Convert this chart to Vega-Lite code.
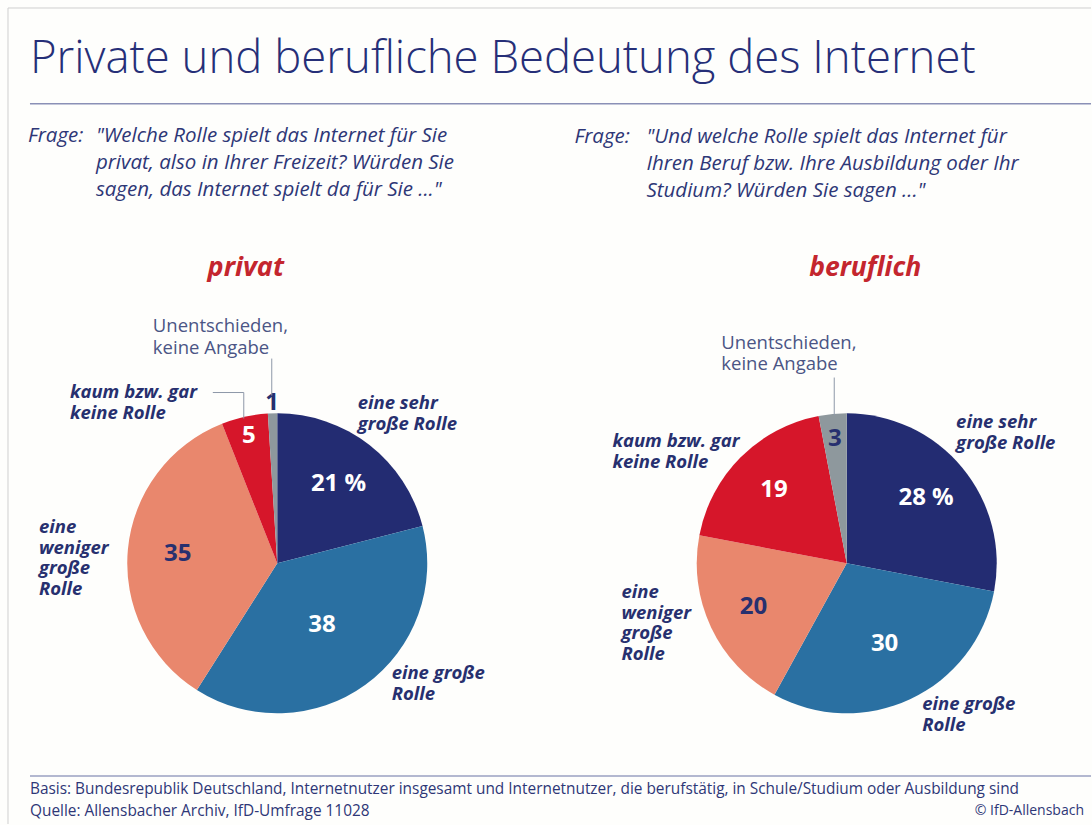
{
  "$schema": "https://vega.github.io/schema/vega-lite/v6.json",
  "width": 1092,
  "height": 825,
  "autosize": {"type": "fit", "contains": "padding"},
  "padding": 0,
  "background": "#fefefc",
  "config": {"view": {"stroke": null}, "text": {"font": "Open Sans"}},
  "datasets": {
    "privat": [
      {"cat": "sehr", "nr": 1, "value": 21, "label": "21 %"},
      {"cat": "gross", "nr": 2, "value": 38, "label": "38"},
      {"cat": "weniger", "nr": 3, "value": 35, "label": "35"},
      {"cat": "kaum", "nr": 4, "value": 5, "label": "5"},
      {"cat": "unent", "nr": 5, "value": 1, "label": "1"}
    ],
    "beruflich": [
      {"cat": "sehr", "nr": 1, "value": 28, "label": "28 %"},
      {"cat": "gross", "nr": 2, "value": 30, "label": "30"},
      {"cat": "weniger", "nr": 3, "value": 20, "label": "20"},
      {"cat": "kaum", "nr": 4, "value": 19, "label": "19"},
      {"cat": "unent", "nr": 5, "value": 3, "label": "3"}
    ]
  },
  "data": {"values": [{}]},
  "layer": [
    {"mark": {"type": "rule", "color": "#cfcfcf", "strokeWidth": 1},
     "encoding": {"x": {"datum": 8, "type": "quantitative", "scale": {"domain": [0, 1092], "nice": false, "zero": false}, "axis": null}, "x2": {"datum": 1092},
                  "y": {"datum": 8, "type": "quantitative", "scale": {"domain": [0, 825], "nice": false, "zero": false, "reverse": true}, "axis": null}}},
    {"mark": {"type": "rule", "color": "#cfcfcf", "strokeWidth": 1},
     "encoding": {"x": {"datum": 8, "type": "quantitative", "scale": {"domain": [0, 1092], "nice": false, "zero": false}, "axis": null},
                  "y": {"datum": 8, "type": "quantitative", "scale": {"domain": [0, 825], "nice": false, "zero": false, "reverse": true}, "axis": null}, "y2": {"datum": 825}}},
    {"mark": {"type": "text", "text": "Private und berufliche Bedeutung des Internet", "align": "left", "baseline": "alphabetic", "fontSize": 45.5, "fontWeight": 300, "color": "#262f78"},
     "encoding": {"x": {"datum": 30, "type": "quantitative", "scale": {"domain": [0, 1092], "nice": false, "zero": false}, "axis": null},
                  "y": {"datum": 73, "type": "quantitative", "scale": {"domain": [0, 825], "nice": false, "zero": false, "reverse": true}, "axis": null}}},
    {"mark": {"type": "rule", "color": "#8a90b6", "strokeWidth": 1.5},
     "encoding": {"x": {"datum": 30, "type": "quantitative", "scale": {"domain": [0, 1092], "nice": false, "zero": false}, "axis": null}, "x2": {"datum": 1092},
                  "y": {"datum": 104, "type": "quantitative", "scale": {"domain": [0, 825], "nice": false, "zero": false, "reverse": true}, "axis": null}}},
    {"mark": {"type": "text", "text": "Frage:", "align": "left", "baseline": "middle", "fontSize": 20.5, "fontStyle": "italic", "color": "#2e3777"},
     "encoding": {"x": {"datum": 28, "type": "quantitative", "scale": {"domain": [0, 1092], "nice": false, "zero": false}, "axis": null},
                  "y": {"datum": 136, "type": "quantitative", "scale": {"domain": [0, 825], "nice": false, "zero": false, "reverse": true}, "axis": null}}},
    {"mark": {"type": "text", "text": ["\"Welche Rolle spielt das Internet für Sie", " privat, also in Ihrer Freizeit? Würden Sie", " sagen, das Internet spielt da für Sie ...\""], "align": "left", "baseline": "middle", "lineHeight": 27, "fontSize": 20.5, "fontStyle": "italic", "color": "#2e3777"},
     "encoding": {"x": {"datum": 96, "type": "quantitative", "scale": {"domain": [0, 1092], "nice": false, "zero": false}, "axis": null},
                  "y": {"datum": 136, "type": "quantitative", "scale": {"domain": [0, 825], "nice": false, "zero": false, "reverse": true}, "axis": null}}},
    {"mark": {"type": "text", "text": "Frage:", "align": "left", "baseline": "middle", "fontSize": 20.5, "fontStyle": "italic", "color": "#2e3777"},
     "encoding": {"x": {"datum": 575, "type": "quantitative", "scale": {"domain": [0, 1092], "nice": false, "zero": false}, "axis": null},
                  "y": {"datum": 137, "type": "quantitative", "scale": {"domain": [0, 825], "nice": false, "zero": false, "reverse": true}, "axis": null}}},
    {"mark": {"type": "text", "text": ["\"Und welche Rolle spielt das Internet für", " Ihren Beruf bzw. Ihre Ausbildung oder Ihr", " Studium? Würden Sie sagen ...\""], "align": "left", "baseline": "middle", "lineHeight": 27, "fontSize": 20.5, "fontStyle": "italic", "color": "#2e3777"},
     "encoding": {"x": {"datum": 647, "type": "quantitative", "scale": {"domain": [0, 1092], "nice": false, "zero": false}, "axis": null},
                  "y": {"datum": 137, "type": "quantitative", "scale": {"domain": [0, 825], "nice": false, "zero": false, "reverse": true}, "axis": null}}},
    {"mark": {"type": "text", "text": "privat", "align": "center", "baseline": "middle", "fontSize": 27, "fontWeight": "bold", "fontStyle": "italic", "color": "#c4262e"},
     "encoding": {"x": {"datum": 246, "type": "quantitative", "scale": {"domain": [0, 1092], "nice": false, "zero": false}, "axis": null},
                  "y": {"datum": 268, "type": "quantitative", "scale": {"domain": [0, 825], "nice": false, "zero": false, "reverse": true}, "axis": null}}},
    {"mark": {"type": "text", "text": "beruflich", "align": "center", "baseline": "middle", "fontSize": 26.5, "fontWeight": "bold", "fontStyle": "italic", "color": "#c4262e"},
     "encoding": {"x": {"datum": 866, "type": "quantitative", "scale": {"domain": [0, 1092], "nice": false, "zero": false}, "axis": null},
                  "y": {"datum": 268, "type": "quantitative", "scale": {"domain": [0, 825], "nice": false, "zero": false, "reverse": true}, "axis": null}}},

    {"data": {"name": "privat"},
     "mark": {"type": "arc", "outerRadius": 150},
     "encoding": {"x": {"datum": 277.5, "type": "quantitative", "scale": {"domain": [0, 1092], "nice": false, "zero": false}, "axis": null},
                  "y": {"datum": 564, "type": "quantitative", "scale": {"domain": [0, 825], "nice": false, "zero": false, "reverse": true}, "axis": null},
                  "theta": {"field": "value", "type": "quantitative", "stack": true},
                  "order": {"field": "nr", "type": "quantitative"},
                  "color": {"field": "cat", "type": "nominal", "legend": null, "scale": {"domain": ["sehr", "gross", "weniger", "kaum", "unent"], "range": ["#232c72", "#2a70a2", "#e9876d", "#d6162a", "#8e989d"]}}}},
    {"data": {"name": "privat"},
     "mark": {"type": "text", "radius": 100, "fontSize": 24, "fontWeight": "bold", "align": "center", "baseline": "middle"},
     "encoding": {"x": {"datum": 277.5, "type": "quantitative", "scale": {"domain": [0, 1092], "nice": false, "zero": false}, "axis": null},
                  "y": {"datum": 564, "type": "quantitative", "scale": {"domain": [0, 825], "nice": false, "zero": false, "reverse": true}, "axis": null},
                  "theta": {"field": "value", "type": "quantitative", "stack": true},
                  "order": {"field": "nr", "type": "quantitative"},
                  "detail": {"field": "cat", "type": "nominal"},
                  "text": {"condition": {"test": "datum.cat === 'sehr' || datum.cat === 'weniger'", "field": "label"}, "value": ""},
                  "color": {"condition": {"test": "datum.cat === 'weniger'", "value": "#27306f"}, "value": "#ffffff"}}},
    {"data": {"name": "privat"},
     "mark": {"type": "text", "radius": 76, "fontSize": 24, "fontWeight": "bold", "align": "center", "baseline": "middle", "color": "#ffffff"},
     "encoding": {"x": {"datum": 277.5, "type": "quantitative", "scale": {"domain": [0, 1092], "nice": false, "zero": false}, "axis": null},
                  "y": {"datum": 564, "type": "quantitative", "scale": {"domain": [0, 825], "nice": false, "zero": false, "reverse": true}, "axis": null},
                  "theta": {"field": "value", "type": "quantitative", "stack": true},
                  "order": {"field": "nr", "type": "quantitative"},
                  "detail": {"field": "cat", "type": "nominal"},
                  "text": {"condition": {"test": "datum.cat === 'gross'", "field": "label"}, "value": ""}}},
    {"data": {"name": "privat"},
     "mark": {"type": "text", "radius": 130, "fontSize": 24, "fontWeight": "bold", "align": "center", "baseline": "middle", "color": "#ffffff"},
     "encoding": {"x": {"datum": 277.5, "type": "quantitative", "scale": {"domain": [0, 1092], "nice": false, "zero": false}, "axis": null},
                  "y": {"datum": 564, "type": "quantitative", "scale": {"domain": [0, 825], "nice": false, "zero": false, "reverse": true}, "axis": null},
                  "theta": {"field": "value", "type": "quantitative", "stack": true},
                  "order": {"field": "nr", "type": "quantitative"},
                  "detail": {"field": "cat", "type": "nominal"},
                  "text": {"condition": {"test": "datum.cat === 'kaum'", "field": "label"}, "value": ""}}},
    {"data": {"name": "privat"},
     "mark": {"type": "text", "radius": 160, "fontSize": 24, "fontWeight": "bold", "align": "center", "baseline": "middle", "color": "#27306f"},
     "encoding": {"x": {"datum": 277.5, "type": "quantitative", "scale": {"domain": [0, 1092], "nice": false, "zero": false}, "axis": null},
                  "y": {"datum": 564, "type": "quantitative", "scale": {"domain": [0, 825], "nice": false, "zero": false, "reverse": true}, "axis": null},
                  "theta": {"field": "value", "type": "quantitative", "stack": true},
                  "order": {"field": "nr", "type": "quantitative"},
                  "detail": {"field": "cat", "type": "nominal"},
                  "text": {"condition": {"test": "datum.cat === 'unent'", "field": "label"}, "value": ""}}},

    {"data": {"name": "beruflich"},
     "mark": {"type": "arc", "outerRadius": 150},
     "encoding": {"x": {"datum": 847.5, "type": "quantitative", "scale": {"domain": [0, 1092], "nice": false, "zero": false}, "axis": null},
                  "y": {"datum": 564, "type": "quantitative", "scale": {"domain": [0, 825], "nice": false, "zero": false, "reverse": true}, "axis": null},
                  "theta": {"field": "value", "type": "quantitative", "stack": true},
                  "order": {"field": "nr", "type": "quantitative"},
                  "color": {"field": "cat", "type": "nominal", "legend": null, "scale": {"domain": ["sehr", "gross", "weniger", "kaum", "unent"], "range": ["#232c72", "#2a70a2", "#e9876d", "#d6162a", "#8e989d"]}}}},
    {"data": {"name": "beruflich"},
     "mark": {"type": "text", "radius": 103, "fontSize": 24, "fontWeight": "bold", "align": "center", "baseline": "middle"},
     "encoding": {"x": {"datum": 847.5, "type": "quantitative", "scale": {"domain": [0, 1092], "nice": false, "zero": false}, "axis": null},
                  "y": {"datum": 564, "type": "quantitative", "scale": {"domain": [0, 825], "nice": false, "zero": false, "reverse": true}, "axis": null},
                  "theta": {"field": "value", "type": "quantitative", "stack": true},
                  "order": {"field": "nr", "type": "quantitative"},
                  "detail": {"field": "cat", "type": "nominal"},
                  "text": {"condition": {"test": "datum.cat === 'sehr' || datum.cat === 'weniger' || datum.cat === 'kaum'", "field": "label"}, "value": ""},
                  "color": {"condition": {"test": "datum.cat === 'weniger'", "value": "#27306f"}, "value": "#ffffff"}}},
    {"data": {"name": "beruflich"},
     "mark": {"type": "text", "radius": 89, "fontSize": 24, "fontWeight": "bold", "align": "center", "baseline": "middle", "color": "#ffffff"},
     "encoding": {"x": {"datum": 847.5, "type": "quantitative", "scale": {"domain": [0, 1092], "nice": false, "zero": false}, "axis": null},
                  "y": {"datum": 564, "type": "quantitative", "scale": {"domain": [0, 825], "nice": false, "zero": false, "reverse": true}, "axis": null},
                  "theta": {"field": "value", "type": "quantitative", "stack": true},
                  "order": {"field": "nr", "type": "quantitative"},
                  "detail": {"field": "cat", "type": "nominal"},
                  "text": {"condition": {"test": "datum.cat === 'gross'", "field": "label"}, "value": ""}}},
    {"data": {"name": "beruflich"},
     "mark": {"type": "text", "radius": 125, "fontSize": 24, "fontWeight": "bold", "align": "center", "baseline": "middle", "color": "#27306f"},
     "encoding": {"x": {"datum": 847.5, "type": "quantitative", "scale": {"domain": [0, 1092], "nice": false, "zero": false}, "axis": null},
                  "y": {"datum": 564, "type": "quantitative", "scale": {"domain": [0, 825], "nice": false, "zero": false, "reverse": true}, "axis": null},
                  "theta": {"field": "value", "type": "quantitative", "stack": true},
                  "order": {"field": "nr", "type": "quantitative"},
                  "detail": {"field": "cat", "type": "nominal"},
                  "text": {"condition": {"test": "datum.cat === 'unent'", "field": "label"}, "value": ""}}},

    {"mark": {"type": "text", "text": ["Unentschieden,", "keine Angabe"], "align": "left", "baseline": "middle", "lineHeight": 22, "fontSize": 18.5, "color": "#4b5585"},
     "encoding": {"x": {"datum": 153, "type": "quantitative", "scale": {"domain": [0, 1092], "nice": false, "zero": false}, "axis": null},
                  "y": {"datum": 326, "type": "quantitative", "scale": {"domain": [0, 825], "nice": false, "zero": false, "reverse": true}, "axis": null}}},
    {"mark": {"type": "rule", "color": "#8e98a8", "strokeWidth": 1},
     "encoding": {"x": {"datum": 272, "type": "quantitative", "scale": {"domain": [0, 1092], "nice": false, "zero": false}, "axis": null},
                  "y": {"datum": 359, "type": "quantitative", "scale": {"domain": [0, 825], "nice": false, "zero": false, "reverse": true}, "axis": null}, "y2": {"datum": 396}}},
    {"mark": {"type": "text", "text": ["kaum bzw. gar", "keine Rolle"], "align": "left", "baseline": "middle", "lineHeight": 21, "fontSize": 18.5, "fontWeight": "bold", "fontStyle": "italic", "color": "#27306f"},
     "encoding": {"x": {"datum": 70, "type": "quantitative", "scale": {"domain": [0, 1092], "nice": false, "zero": false}, "axis": null},
                  "y": {"datum": 392, "type": "quantitative", "scale": {"domain": [0, 825], "nice": false, "zero": false, "reverse": true}, "axis": null}}},
    {"mark": {"type": "rule", "color": "#8e98a8", "strokeWidth": 1},
     "encoding": {"x": {"datum": 213, "type": "quantitative", "scale": {"domain": [0, 1092], "nice": false, "zero": false}, "axis": null}, "x2": {"datum": 244},
                  "y": {"datum": 393, "type": "quantitative", "scale": {"domain": [0, 825], "nice": false, "zero": false, "reverse": true}, "axis": null}}},
    {"mark": {"type": "rule", "color": "#8e98a8", "strokeWidth": 1},
     "encoding": {"x": {"datum": 244, "type": "quantitative", "scale": {"domain": [0, 1092], "nice": false, "zero": false}, "axis": null},
                  "y": {"datum": 393, "type": "quantitative", "scale": {"domain": [0, 825], "nice": false, "zero": false, "reverse": true}, "axis": null}, "y2": {"datum": 419}}},
    {"mark": {"type": "text", "text": ["eine sehr", "große Rolle"], "align": "left", "baseline": "middle", "lineHeight": 21, "fontSize": 18.5, "fontWeight": "bold", "fontStyle": "italic", "color": "#27306f"},
     "encoding": {"x": {"datum": 358, "type": "quantitative", "scale": {"domain": [0, 1092], "nice": false, "zero": false}, "axis": null},
                  "y": {"datum": 403, "type": "quantitative", "scale": {"domain": [0, 825], "nice": false, "zero": false, "reverse": true}, "axis": null}}},
    {"mark": {"type": "text", "text": ["eine", "weniger", "große", "Rolle"], "align": "left", "baseline": "middle", "lineHeight": 20.5, "fontSize": 18.5, "fontWeight": "bold", "fontStyle": "italic", "color": "#27306f"},
     "encoding": {"x": {"datum": 39, "type": "quantitative", "scale": {"domain": [0, 1092], "nice": false, "zero": false}, "axis": null},
                  "y": {"datum": 528, "type": "quantitative", "scale": {"domain": [0, 825], "nice": false, "zero": false, "reverse": true}, "axis": null}}},
    {"mark": {"type": "text", "text": ["eine große", "Rolle"], "align": "left", "baseline": "middle", "lineHeight": 21, "fontSize": 18.5, "fontWeight": "bold", "fontStyle": "italic", "color": "#27306f"},
     "encoding": {"x": {"datum": 392, "type": "quantitative", "scale": {"domain": [0, 1092], "nice": false, "zero": false}, "axis": null},
                  "y": {"datum": 674, "type": "quantitative", "scale": {"domain": [0, 825], "nice": false, "zero": false, "reverse": true}, "axis": null}}},

    {"mark": {"type": "text", "text": ["Unentschieden,", "keine Angabe"], "align": "left", "baseline": "middle", "lineHeight": 21, "fontSize": 18.5, "color": "#4b5585"},
     "encoding": {"x": {"datum": 722, "type": "quantitative", "scale": {"domain": [0, 1092], "nice": false, "zero": false}, "axis": null},
                  "y": {"datum": 343, "type": "quantitative", "scale": {"domain": [0, 825], "nice": false, "zero": false, "reverse": true}, "axis": null}}},
    {"mark": {"type": "rule", "color": "#8e98a8", "strokeWidth": 1},
     "encoding": {"x": {"datum": 835, "type": "quantitative", "scale": {"domain": [0, 1092], "nice": false, "zero": false}, "axis": null},
                  "y": {"datum": 378, "type": "quantitative", "scale": {"domain": [0, 825], "nice": false, "zero": false, "reverse": true}, "axis": null}, "y2": {"datum": 416}}},
    {"mark": {"type": "text", "text": ["kaum bzw. gar", "keine Rolle"], "align": "left", "baseline": "middle", "lineHeight": 21, "fontSize": 18.5, "fontWeight": "bold", "fontStyle": "italic", "color": "#27306f"},
     "encoding": {"x": {"datum": 613, "type": "quantitative", "scale": {"domain": [0, 1092], "nice": false, "zero": false}, "axis": null},
                  "y": {"datum": 442, "type": "quantitative", "scale": {"domain": [0, 825], "nice": false, "zero": false, "reverse": true}, "axis": null}}},
    {"mark": {"type": "text", "text": ["eine sehr", "große Rolle"], "align": "left", "baseline": "middle", "lineHeight": 21, "fontSize": 18.5, "fontWeight": "bold", "fontStyle": "italic", "color": "#27306f"},
     "encoding": {"x": {"datum": 957, "type": "quantitative", "scale": {"domain": [0, 1092], "nice": false, "zero": false}, "axis": null},
                  "y": {"datum": 423, "type": "quantitative", "scale": {"domain": [0, 825], "nice": false, "zero": false, "reverse": true}, "axis": null}}},
    {"mark": {"type": "text", "text": ["eine", "weniger", "große", "Rolle"], "align": "left", "baseline": "middle", "lineHeight": 20.5, "fontSize": 18.5, "fontWeight": "bold", "fontStyle": "italic", "color": "#27306f"},
     "encoding": {"x": {"datum": 622, "type": "quantitative", "scale": {"domain": [0, 1092], "nice": false, "zero": false}, "axis": null},
                  "y": {"datum": 593, "type": "quantitative", "scale": {"domain": [0, 825], "nice": false, "zero": false, "reverse": true}, "axis": null}}},
    {"mark": {"type": "text", "text": ["eine große", "Rolle"], "align": "left", "baseline": "middle", "lineHeight": 21, "fontSize": 18.5, "fontWeight": "bold", "fontStyle": "italic", "color": "#27306f"},
     "encoding": {"x": {"datum": 923, "type": "quantitative", "scale": {"domain": [0, 1092], "nice": false, "zero": false}, "axis": null},
                  "y": {"datum": 705, "type": "quantitative", "scale": {"domain": [0, 825], "nice": false, "zero": false, "reverse": true}, "axis": null}}},

    {"mark": {"type": "rule", "color": "#9aa0c2", "strokeWidth": 1.5},
     "encoding": {"x": {"datum": 30, "type": "quantitative", "scale": {"domain": [0, 1092], "nice": false, "zero": false}, "axis": null}, "x2": {"datum": 1092},
                  "y": {"datum": 777, "type": "quantitative", "scale": {"domain": [0, 825], "nice": false, "zero": false, "reverse": true}, "axis": null}}},
    {"mark": {"type": "text", "text": "Basis: Bundesrepublik Deutschland, Internetnutzer insgesamt und Internetnutzer, die berufstätig, in Schule/Studium oder Ausbildung sind", "align": "left", "baseline": "middle", "fontSize": 15.4, "color": "#2e3777"},
     "encoding": {"x": {"datum": 30, "type": "quantitative", "scale": {"domain": [0, 1092], "nice": false, "zero": false}, "axis": null},
                  "y": {"datum": 790, "type": "quantitative", "scale": {"domain": [0, 825], "nice": false, "zero": false, "reverse": true}, "axis": null}}},
    {"mark": {"type": "text", "text": "Quelle: Allensbacher Archiv, IfD-Umfrage 11028", "align": "left", "baseline": "middle", "fontSize": 15.4, "color": "#2e3777"},
     "encoding": {"x": {"datum": 30, "type": "quantitative", "scale": {"domain": [0, 1092], "nice": false, "zero": false}, "axis": null},
                  "y": {"datum": 812, "type": "quantitative", "scale": {"domain": [0, 825], "nice": false, "zero": false, "reverse": true}, "axis": null}}},
    {"mark": {"type": "text", "text": "© IfD-Allensbach", "align": "right", "baseline": "middle", "fontSize": 14, "color": "#2e3777"},
     "encoding": {"x": {"datum": 1085, "type": "quantitative", "scale": {"domain": [0, 1092], "nice": false, "zero": false}, "axis": null},
                  "y": {"datum": 812, "type": "quantitative", "scale": {"domain": [0, 825], "nice": false, "zero": false, "reverse": true}, "axis": null}}}
  ]
}
